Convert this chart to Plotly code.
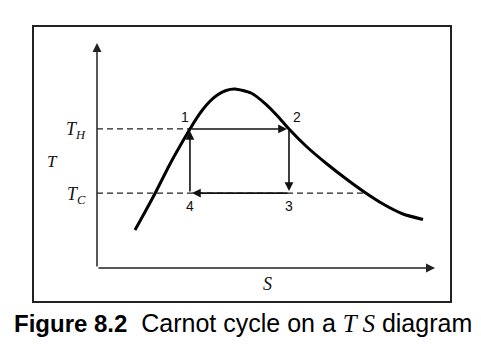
import plotly.graph_objects as go

# Saturation dome (S, T in arbitrary units)
dome_S = [1.124, 1.420, 1.716, 2.160, 2.456, 2.751, 2.959, 3.136, 3.343, 3.550, 3.817, 4.083,
          4.556, 5.000, 5.355, 5.680, 6.213, 6.805, 7.396, 7.929, 8.462, 9.053, 9.645]
dome_T = [1.689, 2.489, 3.311, 4.622, 5.422, 6.178, 6.684, 7.058, 7.413, 7.680, 7.889, 7.956,
          7.778, 7.276, 6.733, 6.178, 5.378, 4.622, 3.933, 3.356, 2.844, 2.400, 2.156]

# Carnot cycle states
T_H = 6.18
T_C = 3.33
state_labels = ["1", "2", "3", "4"]
state_S = [2.75, 5.68, 5.68, 2.75]
state_T = [T_H, T_H, T_C, T_C]
# dashed guide line ends (S where the isotherms end)
TH_dash_end = 2.75
TC_dash_end = 7.95
axis_max_S = 10
axis_max_T = 10

serif = "Liberation Serif, Times New Roman, serif"
sans = "Liberation Sans, Arial, sans-serif"

fig = go.Figure()

# dashed isotherm guides
for xe, t in [(TH_dash_end, T_H), (TC_dash_end, T_C)]:
    fig.add_trace(go.Scatter(x=[0, xe], y=[t, t], mode="lines",
                             line=dict(color="#222", width=1.3, dash="6px,4px"), hoverinfo="skip"))

# dome
fig.add_trace(go.Scatter(x=dome_S, y=dome_T, mode="lines",
                         line=dict(color="black", width=3, shape="spline", smoothing=0.6),
                         hoverinfo="skip"))

annotations = []
# axes arrows
annotations.append(dict(x=axis_max_S, y=0, ax=0, ay=0, xref="x", yref="y", axref="x", ayref="y",
                        text="", showarrow=True, arrowhead=2, arrowsize=1.2, arrowwidth=1.5, arrowcolor="#222"))
annotations.append(dict(x=0, y=axis_max_T, ax=0, ay=0, xref="x", yref="y", axref="x", ayref="y",
                        text="", showarrow=True, arrowhead=2, arrowsize=1.2, arrowwidth=1.5, arrowcolor="#222"))

# cycle arrows 1->2->3->4->1
for i in range(4):
    j = (i + 1) % 4
    annotations.append(dict(x=state_S[j], y=state_T[j], ax=state_S[i], ay=state_T[i],
                            xref="x", yref="y", axref="x", ayref="y", text="", showarrow=True,
                            arrowhead=2, arrowsize=1.1, arrowwidth=1.6, arrowcolor="#111", standoff=2))

# state labels
offsets = [(-5, 12), (8, 12), (0, -13), (0, -13)]
for lab, s, t, (dx, dy) in zip(state_labels, state_S, state_T, offsets):
    annotations.append(dict(x=s, y=t, xref="x", yref="y", text=lab, showarrow=False,
                            xshift=dx, yshift=dy, font=dict(family=sans, size=14, color="#111")))

# T_H, T_C labels
for lab, t in [("H", T_H), ("C", T_C)]:
    annotations.append(dict(x=0, y=t, xref="x", yref="y",
                            text="<i>T</i><sub><i>" + lab + "</i></sub>",
                            showarrow=False, xanchor="right", xshift=-9, yshift=-2,
                            font=dict(family=serif, size=18, color="#111")))
# axis titles
annotations.append(dict(x=0, y=(T_H + T_C) / 2, xref="x", yref="y", text="<i>T</i>",
                        showarrow=False, xanchor="center", xshift=-45,
                        font=dict(family=serif, size=17, color="#111")))
annotations.append(dict(x=axis_max_S / 2 + 0.05, y=0, xref="x", yref="y", text="<i>S</i>",
                        showarrow=False, yshift=-16,
                        font=dict(family=serif, size=18, color="#111")))

# caption
annotations.append(dict(x=242.5 / 481, y=1 - 323 / 359, xref="paper", yref="paper",
                        text="<span style='font-size:24px'><b>Figure 8.2</b></span>  Carnot cycle on a "
                             "<span style='font-family:Liberation Serif'><i>T S</i></span> diagram",
                        showarrow=False, xanchor="center", yanchor="middle",
                        font=dict(family=sans, size=25, color="black")))

shapes = [dict(type="rect", xref="paper", yref="paper",
               x0=33 / 481, x1=451 / 481, y0=1 - 302 / 359, y1=1 - 26 / 359,
               line=dict(color="#222", width=2), fillcolor="rgba(0,0,0,0)")]

fig.update_layout(
    width=481, height=359, margin=dict(l=0, r=0, t=0, b=0),
    paper_bgcolor="white", plot_bgcolor="white", showlegend=False,
    xaxis=dict(range=[-2.870, 11.361], visible=False, fixedrange=True),
    yaxis=dict(range=[-4.044, 11.911], visible=False, fixedrange=True),
    annotations=annotations, shapes=shapes,
)

fig.write_html("out.html")
